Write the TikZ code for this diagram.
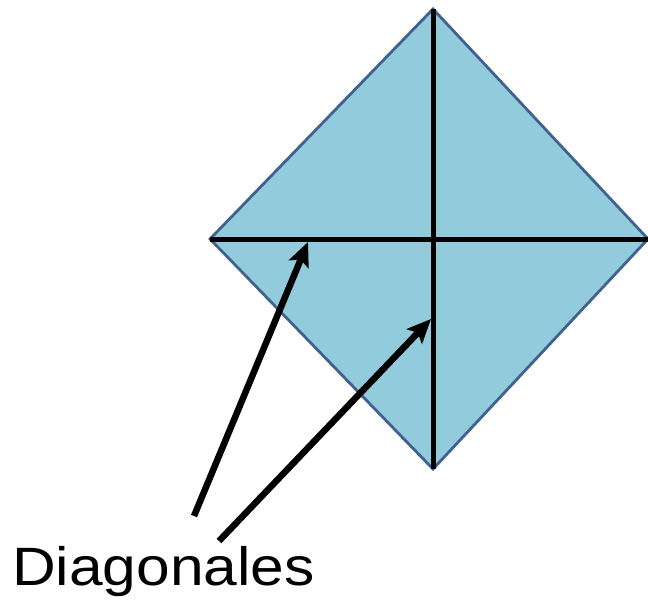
\documentclass[tikz,border=0pt]{standalone}
\usepackage{fontspec}
\setmainfont{Liberation Sans}
\usetikzlibrary{arrows.meta}
\definecolor{fillblue}{HTML}{92CBDB}
\definecolor{edgeblue}{HTML}{41618F}
\begin{document}
\begin{tikzpicture}[x=1pt,y=-1pt,
  diag/.style={line width=5pt,black},
  pointer/.style={line width=6.5pt,black,-{Stealth[length=24pt,width=21pt,inset=5pt]}}]
\useasboundingbox (0,0) rectangle (648,605);
\coordinate (T) at (433,9);
\coordinate (L) at (210,239);
\coordinate (R) at (648,239);
\coordinate (B) at (433,469);
\filldraw[fill=fillblue,draw=edgeblue,line width=2.8pt,line join=miter] (T) -- (R) -- (B) -- (L) -- cycle;
\draw[diag] (L) -- (R);
\draw[diag] (T) -- (B);
\coordinate (h1) at (308,242);
\coordinate (h2) at (431,319);
\coordinate (t1) at (194,516);
\coordinate (t2) at (219,541);
\draw[pointer] (t1) -- (h1);
\draw[pointer] (t2) -- (h2);
\node[anchor=base west,inner sep=0pt,font=\fontsize{54}{60}\selectfont,xscale=1.12] (lbl) at (12,585) {Diagonales};
\end{tikzpicture}
\end{document}
